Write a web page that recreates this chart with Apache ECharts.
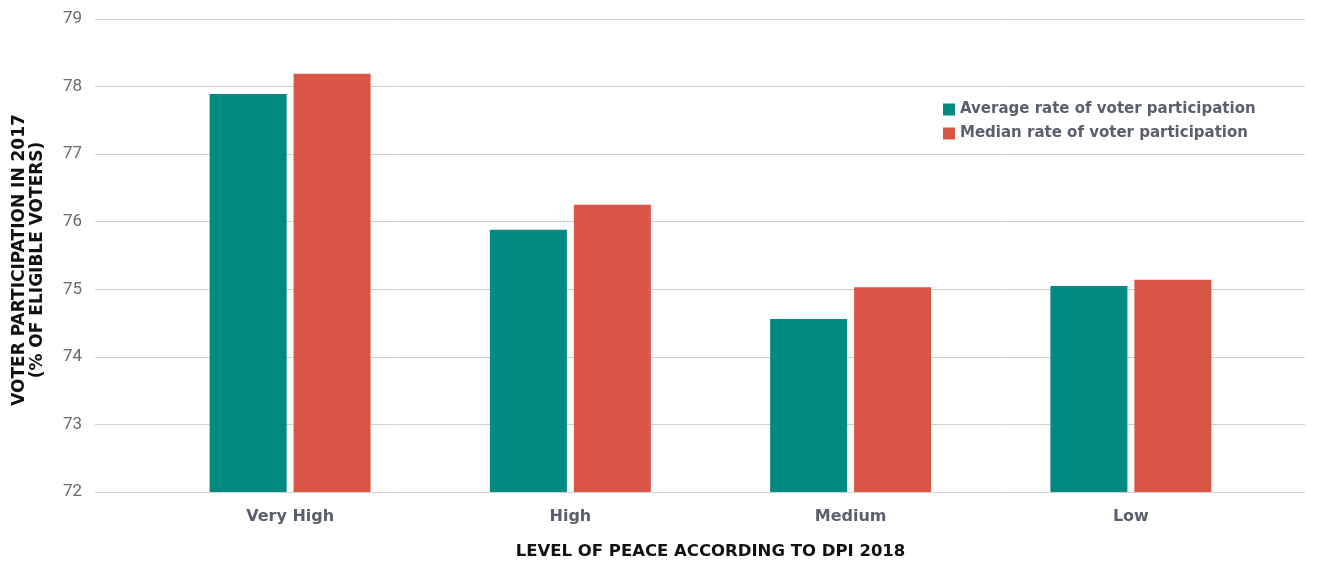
<!DOCTYPE html>
<html><head><meta charset="utf-8">
<script src="https://cdn.jsdelivr.net/npm/echarts@6/dist/echarts.min.js"></script>
<style>html,body{margin:0;padding:0;background:#fff}#c{width:1322px;height:563px}</style>
</head><body><div id="c"></div>
<script>
const categories = ['Very High', 'High', 'Medium', 'Low'];
const seriesNames = ['Average rate of voter participation', 'Median rate of voter participation'];
const averageRate = [77.89, 75.88, 74.56, 75.05];
const medianRate = [78.19, 76.25, 75.03, 75.14];
const yMin = 72, yMax = 79, yStep = 1;
const xTitle = 'LEVEL OF PEACE ACCORDING TO DPI 2018';
const yTitle = 'VOTER PARTICIPATION IN 2017\n(% OF ELIGIBLE VOTERS)';

const chart = echarts.init(document.getElementById('c'), null, {renderer: 'canvas'});
const bold = '"DejaVu Sans", sans-serif';
const light = 'Roboto, "Liberation Sans", sans-serif';
chart.setOption({
  animation: false,
  textStyle: {fontFamily: light},
  graphic: [{
    type: 'text', x: 29, y: 260, rotation: Math.PI / 2,
    style: {text: yTitle, fontFamily: bold, fontWeight: 'bold', fontSize: 17, lineHeight: 18,
            fill: '#111', align: 'center', verticalAlign: 'middle'}
  }],
  legend: {
    orient: 'vertical', left: 938, top: 97, itemWidth: 12, itemHeight: 12, itemGap: 9,
    icon: 'rect', data: seriesNames,
    textStyle: {fontFamily: bold, fontWeight: 'bold', fontSize: 15, color: '#5a5f6b'}
  },
  grid: [
    {left: 95, right: 17, top: 19, bottom: 71, containLabel: false, outerBoundsMode: 'none'},
    {left: 150, right: 51, top: 19, bottom: 71, containLabel: false, outerBoundsMode: 'none'}
  ],
  xAxis: [
    {gridIndex: 0, type: 'value', show: false, min: 0, max: 1},
    {gridIndex: 1, type: 'category', data: categories,
     axisLine: {show: false}, axisTick: {show: false},
     axisLabel: {margin: 17, fontFamily: bold, fontWeight: 'bold', fontSize: 16, color: '#5a5f6b'},
     name: xTitle, nameLocation: 'middle', nameGap: 51,
     nameTextStyle: {fontFamily: bold, fontWeight: 'bold', fontSize: 16.5, color: '#111'}}
  ],
  yAxis: [
    {gridIndex: 0, type: 'value', min: yMin, max: yMax, interval: yStep,
     axisLine: {show: false}, axisTick: {show: false},
     axisLabel: {margin: 13, fontFamily: light, fontSize: 17, color: '#6a6a6a'},
     splitLine: {lineStyle: {color: '#cfcfcf', width: 1}}},
    {gridIndex: 1, type: 'value', min: yMin, max: yMax, interval: yStep, show: false, splitLine: {show: false}}
  ],
  series: [
    {name: seriesNames[0], type: 'bar', xAxisIndex: 1, yAxisIndex: 1, data: averageRate,
     barWidth: 77, barGap: '9%', itemStyle: {color: '#008a82'}},
    {name: seriesNames[1], type: 'bar', xAxisIndex: 1, yAxisIndex: 1, data: medianRate,
     barWidth: 77, barGap: '9%', itemStyle: {color: '#d95546'}}
  ]
});
</script></body></html>
